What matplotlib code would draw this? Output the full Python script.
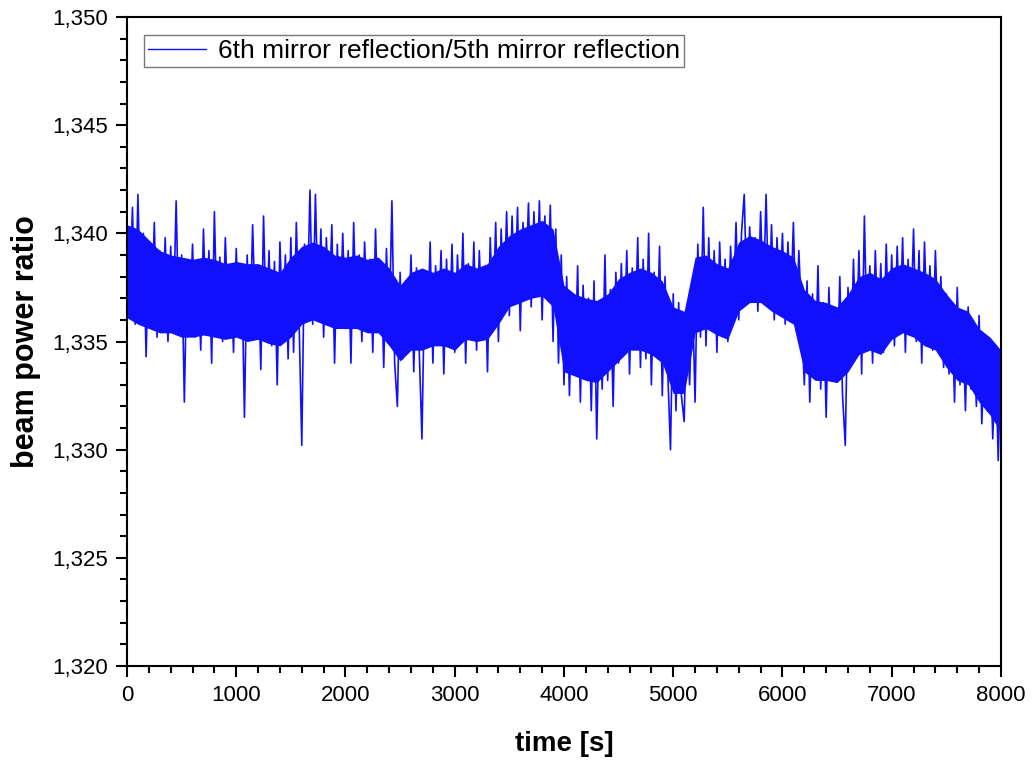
import numpy as np
import matplotlib
matplotlib.use("Agg")
from matplotlib import pyplot as plt
from matplotlib.ticker import MultipleLocator, FuncFormatter

# time axis, one reading every 25 s
time = np.arange(0, 8001, 25)

# beam power ratio, 20 readings per row (500 s)
ratio = [
    1.3402, 1.3372, 1.3412, 1.3358, 1.3418, 1.3365, 1.3400, 1.3343, 1.3396, 1.3360,
    1.3405, 1.3352, 1.3392, 1.3366, 1.3398, 1.3350, 1.3394, 1.3362, 1.3415, 1.3354,
    1.3390, 1.3322, 1.3388, 1.3358, 1.3395, 1.3352, 1.3386, 1.3346, 1.3402, 1.3360,
    1.3392, 1.3340, 1.3410, 1.3356, 1.3389, 1.3350, 1.3398, 1.3363, 1.3385, 1.3345,
    1.3393, 1.3355, 1.3386, 1.3315, 1.3390, 1.3352, 1.3404, 1.3360, 1.3384, 1.3337,
    1.3408, 1.3355, 1.3392, 1.3348, 1.3387, 1.3330, 1.3396, 1.3358, 1.3390, 1.3342,
    1.3398, 1.3345, 1.3405, 1.3360, 1.3302, 1.3395, 1.3365, 1.3420, 1.3358, 1.3418,
    1.3362, 1.3402, 1.3352, 1.3398, 1.3366, 1.3404, 1.3340, 1.3395, 1.3360, 1.3400,
    1.3356, 1.3392, 1.3340, 1.3405, 1.3358, 1.3390, 1.3350, 1.3396, 1.3362, 1.3388,
    1.3345, 1.3402, 1.3356, 1.3386, 1.3338, 1.3393, 1.3355, 1.3415, 1.3340, 1.3320,
    1.3382, 1.3342, 1.3378, 1.3350, 1.3390, 1.3336, 1.3384, 1.3346, 1.3305, 1.3380,
    1.3352, 1.3396, 1.3340, 1.3385, 1.3356, 1.3392, 1.3335, 1.3388, 1.3350, 1.3395,
    1.3345, 1.3390, 1.3355, 1.3400, 1.3340, 1.3386, 1.3352, 1.3396, 1.3346, 1.3392,
    1.3358, 1.3384, 1.3336, 1.3398, 1.3360, 1.3405, 1.3350, 1.3402, 1.3365, 1.3410,
    1.3362, 1.3408, 1.3370, 1.3412, 1.3355, 1.3405, 1.3375, 1.3414, 1.3366, 1.3410,
    1.3372, 1.3415, 1.3360, 1.3408, 1.3374, 1.3413, 1.3350, 1.3402, 1.3340, 1.3390,
    1.3330, 1.3380, 1.3325, 1.3372, 1.3335, 1.3385, 1.3322, 1.3376, 1.3338, 1.3370,
    1.3318, 1.3378, 1.3305, 1.3368, 1.3328, 1.3390, 1.3332, 1.3374, 1.3320, 1.3382,
    1.3340, 1.3386, 1.3345, 1.3392, 1.3335, 1.3384, 1.3350, 1.3398, 1.3338, 1.3388,
    1.3342, 1.3400, 1.3330, 1.3382, 1.3346, 1.3394, 1.3325, 1.3380, 1.3336, 1.3300,
    1.3372, 1.3318, 1.3368, 1.3325, 1.3313, 1.3365, 1.3330, 1.3374, 1.3322, 1.3395,
    1.3352, 1.3412, 1.3348, 1.3398, 1.3355, 1.3392, 1.3345, 1.3396, 1.3360, 1.3388,
    1.3350, 1.3394, 1.3365, 1.3405, 1.3360, 1.3400, 1.3418, 1.3368, 1.3403, 1.3372,
    1.3398, 1.3364, 1.3410, 1.3370, 1.3418, 1.3366, 1.3404, 1.3360, 1.3398, 1.3368,
    1.3400, 1.3358, 1.3396, 1.3365, 1.3405, 1.3355, 1.3392, 1.3362, 1.3330, 1.3378,
    1.3322, 1.3372, 1.3335, 1.3385, 1.3328, 1.3368, 1.3315, 1.3375, 1.3338, 1.3366,
    1.3332, 1.3380, 1.3325, 1.3302, 1.3375, 1.3340, 1.3388, 1.3345, 1.3392, 1.3335,
    1.3408, 1.3348, 1.3385, 1.3340, 1.3392, 1.3352, 1.3386, 1.3345, 1.3395, 1.3350,
    1.3390, 1.3348, 1.3394, 1.3355, 1.3398, 1.3345, 1.3388, 1.3358, 1.3402, 1.3350,
    1.3392, 1.3340, 1.3396, 1.3355, 1.3385, 1.3346, 1.3392, 1.3352, 1.3380, 1.3338,
    1.3372, 1.3335, 1.3368, 1.3322, 1.3375, 1.3330, 1.3362, 1.3318, 1.3366, 1.3328,
    1.3358, 1.3320, 1.3362, 1.3312, 1.3352, 1.3318, 1.3350, 1.3305, 1.3345, 1.3295,
    1.3340,
]

# dense core of the noise band (top / bottom edge), every 100 s
band_time = np.arange(0, 8001, 100)
band_top = [
    1.3404, 1.3402, 1.3397, 1.3392, 1.3390, 1.3389, 1.3388, 1.3389, 1.3388, 1.3386,
    1.3387, 1.3386, 1.3386, 1.3384, 1.3382, 1.3389, 1.3394, 1.3396, 1.3394, 1.3390,
    1.3389, 1.3390, 1.3388, 1.3389, 1.3384, 1.3376, 1.3382, 1.3384, 1.3382, 1.3384,
    1.3382, 1.3386, 1.3384, 1.3386, 1.3394, 1.3399, 1.3402, 1.3404, 1.3406, 1.3402,
    1.3376, 1.3372, 1.3370, 1.3369, 1.3372, 1.3379, 1.3382, 1.3384, 1.3382, 1.3378,
    1.3366, 1.3364, 1.3389, 1.3390, 1.3386, 1.3384, 1.3396, 1.3399, 1.3397, 1.3394,
    1.3392, 1.3389, 1.3374, 1.3369, 1.3368, 1.3366, 1.3372, 1.3380, 1.3382, 1.3379,
    1.3384, 1.3386, 1.3384, 1.3382, 1.3379, 1.3372, 1.3366, 1.3364, 1.3356, 1.3352,
    1.3346,
]
band_bot = [
    1.3361, 1.3358, 1.3356, 1.3354, 1.3354, 1.3352, 1.3352, 1.3353, 1.3352, 1.3351,
    1.3352, 1.3350, 1.3351, 1.3349, 1.3348, 1.3352, 1.3358, 1.3360, 1.3358, 1.3356,
    1.3356, 1.3356, 1.3354, 1.3354, 1.3348, 1.3341, 1.3346, 1.3346, 1.3348, 1.3348,
    1.3346, 1.3351, 1.3350, 1.3351, 1.3358, 1.3366, 1.3368, 1.3370, 1.3371, 1.3366,
    1.3336, 1.3334, 1.3332, 1.3331, 1.3336, 1.3341, 1.3346, 1.3346, 1.3344, 1.3340,
    1.3326, 1.3326, 1.3354, 1.3356, 1.3353, 1.3351, 1.3364, 1.3368, 1.3368, 1.3364,
    1.3361, 1.3358, 1.3336, 1.3332, 1.3332, 1.3331, 1.3336, 1.3344, 1.3346, 1.3344,
    1.3351, 1.3354, 1.3352, 1.3348, 1.3346, 1.3338, 1.3332, 1.3330, 1.3322, 1.3316,
    1.3308,
]

plt.rcParams['font.family'] = ['Liberation Sans', 'DejaVu Sans']
blue = '#1010ff'

fig = plt.figure(figsize=(10.35, 7.69), dpi=100)
ax = fig.add_axes([0.1227, 0.1339, 0.8444, 0.8440])

ax.fill_between(band_time, band_bot, band_top, color=blue, lw=0)
ax.plot(time, ratio, color=blue, lw=1.2,
        label='6th mirror reflection/5th mirror reflection')

ax.set_xlim(0, 8000)
ax.set_ylim(1.320, 1.350)
ax.xaxis.set_major_locator(MultipleLocator(1000))
ax.xaxis.set_minor_locator(MultipleLocator(200))
ax.yaxis.set_major_locator(MultipleLocator(0.005))
ax.yaxis.set_minor_locator(MultipleLocator(0.001))
ax.yaxis.set_major_formatter(FuncFormatter(lambda v, p: f"{v:.3f}".replace('.', ',')))

ax.tick_params(which='major', direction='out', length=8, width=1.5, labelsize=16, colors='black', pad=6)
ax.tick_params(which='minor', direction='out', length=5, width=1.5)
ax.tick_params(top=False, right=False, which='both')
for s in ax.spines.values():
    s.set_linewidth(1.5)

ax.set_xlabel('time [s]', fontsize=20, fontweight='bold', labelpad=18)
ax.set_ylabel('beam power ratio', fontsize=22, fontweight='bold', labelpad=8)

leg = ax.legend(loc='upper left', fontsize=19, frameon=True, fancybox=False,
                handlelength=2.2, handletextpad=0.45, borderpad=0.15, borderaxespad=0,
                bbox_to_anchor=(0.02, 0.972))
leg.get_frame().set_edgecolor('#555555')
leg.get_frame().set_linewidth(1.0)
leg.get_lines()[0].set_linewidth(1.0)

fig.savefig('out.png', dpi=100)
